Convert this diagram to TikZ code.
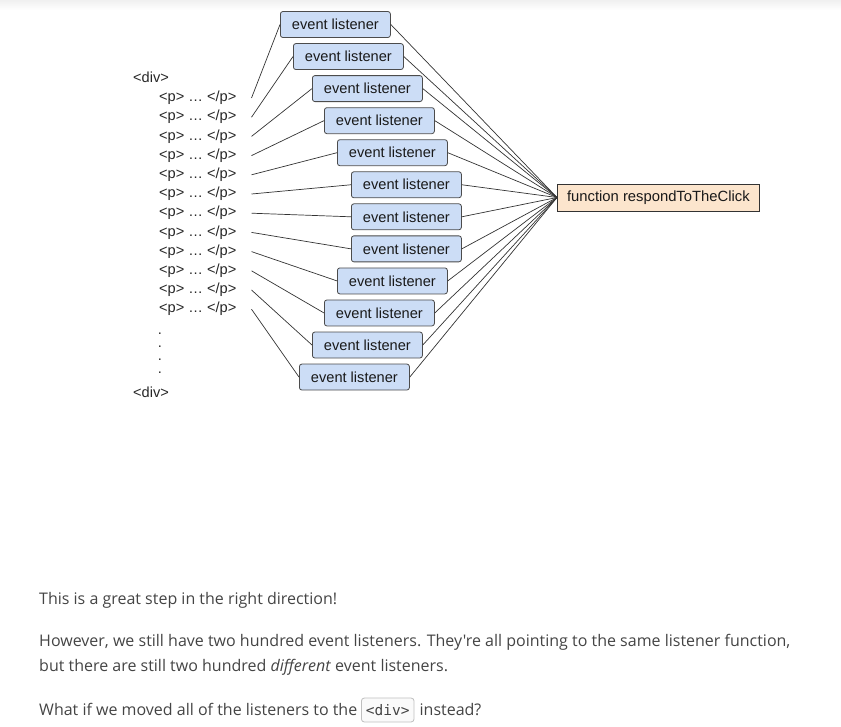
\documentclass[tikz,border=0pt]{standalone}
\usepackage{fontspec}
\setmainfont{Liberation Sans}
\newfontfamily\osans{Open Sans}
\newfontfamily\monof{DejaVu Sans Mono}
\usetikzlibrary{calc}
\definecolor{lbblue}{HTML}{CCDDF6}
\definecolor{lborange}{HTML}{FCE5CD}
\definecolor{bodytext}{HTML}{444444}
\tikzset{
  lbox/.style={draw=black!70, fill=lbblue, rounded corners=2.5pt, minimum width=110pt, minimum height=26pt, inner sep=0pt, line width=0.8pt, font=\fontsize{14.6}{17}\selectfont, text=black!90},
  fbox/.style={draw=black!80, fill=lborange, minimum width=202pt, minimum height=27pt, inner sep=0pt, line width=0.8pt, font=\fontsize{14.8}{17}\selectfont, text=black!90},
  htext/.style={inner sep=0pt, anchor=west, font=\fontsize{14.6}{17}\selectfont, text=black!85},
  conn/.style={draw=black!80, line width=0.7pt},
  body/.style={inner sep=0pt, anchor=base west, font=\osans\fontsize{16}{20}\selectfont, text=bodytext},
  codebox/.style={draw=black!25, fill=black!2, rounded corners=3pt, inner xsep=4.5pt, minimum height=24pt, line width=0.8pt, font=\monof\fontsize{14.5}{17}\selectfont, text=bodytext}
}
\begin{document}
\begin{tikzpicture}[x=1pt,y=-1pt]
\useasboundingbox (0,0) rectangle (841,726);
\shade[top color=black!6, bottom color=white] (0,0) rectangle (841,10);

% HTML listing
\node[htext] (divo) at (133,77) {<div>};
\foreach \i in {1,...,12} {
  \node[htext] (p\i) at (159,{98+19.2*(\i-1)}) {<p> … </p>};
}
\foreach \i/\yy in {1/333,2/346,3/359,4/372} {
  \node[inner sep=0pt, anchor=base, font=\fontsize{14.6}{17}\selectfont, text=black!85] (d\i) at (160,\yy+1.5) {.};
}
\node[htext] (divc) at (133,392) {<div>};

% listener boxes
\foreach \i/\xl in {1/280,2/293,3/312,4/324,5/337,6/351,7/351,8/351,9/337,10/324,11/312,12/299} {
  \node[lbox, anchor=west] (l\i) at (\xl,{24.5+32.05*(\i-1)}) {event listener};
}

% function box
\node[fbox, anchor=west] (f) at (557,197.5) {function respondToTheClick};

% connectors
\foreach \i in {1,...,12} {
  \draw[conn] ([xshift=15pt]p\i.east) -- (l\i.west);
  \draw[conn] (l\i.east) -- (f.west);
}

% body text
\node[body] (t1) at (39,604) {This is a great step in the right direction!};
\node[body] (t2) at (39,646) {However, we still have two hundred event listeners. They're all pointing to the same listener function,};
\node[body] (t3) at (39,671) {but there are still two hundred \textit{different} event listeners.};
\node[body] (t4a) at (39,715) {What if we moved all of the listeners to the};
\node[codebox, anchor=west] (code) at (361,710) {<div>};
\node[body] (t4b) at ([xshift=5pt]code.east |- t4a.base) {instead?};
\end{tikzpicture}
\end{document}
